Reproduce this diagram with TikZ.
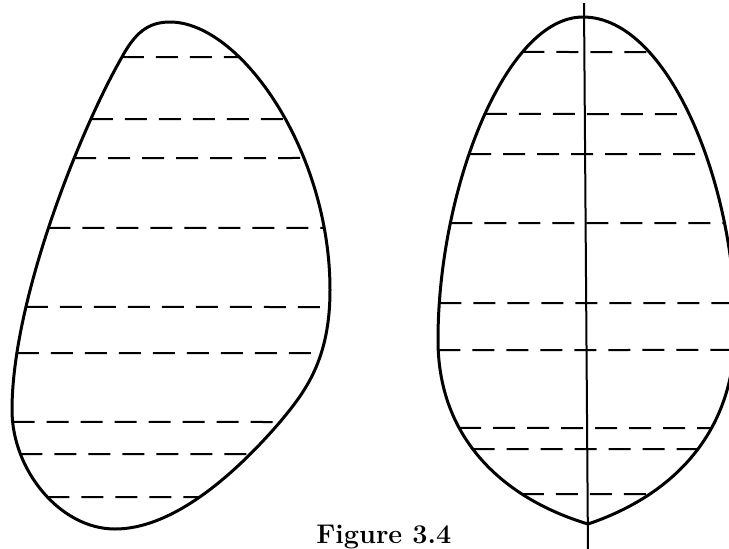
\documentclass[tikz,border=0pt]{standalone}
\usepackage{tikz}
\usetikzlibrary{intersections}
\tikzset{
  outline/.style={line width=1.5pt, line join=round},
  chord/.style={line width=1pt, dash pattern=on 11pt off 6pt},
  axisline/.style={line width=1pt}
}
\begin{document}
\begin{tikzpicture}[x=0.5pt, y=-0.5pt]
  \useasboundingbox (0,0) rectangle (729,548);
  \clip (0,0) rectangle (729,548);

  % left blob
  \draw[outline, name path=leftblob] (170,22)
    .. controls (240,22) and (330,150) .. (330,290)
    .. controls (330,360) and (305,392) .. (280,422)
    .. controls (230,480) and (170,529) .. (115,529)
    .. controls (60,529) and (12,470) .. (12,410)
    .. controls (12,300) and (80,130) .. (122,57)
    .. controls (135,33) and (148,22) .. (170,22) -- cycle;
  \foreach \y in {57,119,158,228,307,353,422,454,497} {
    \path[name path=cut] (0,\y) -- (400,\y);
    \draw[chord, name intersections={of=leftblob and cut, sort by=cut}]
      (intersection-1) -- (intersection-2);
  }

  % right blob with its axis
  \draw[outline, name path=rightblob] (583,17)
    .. controls (670,17) and (737,190) .. (735,330)
    .. controls (735,440) and (665,498) .. (588,524)
    .. controls (505,499) and (438,440) .. (438,340)
    .. controls (438,190) and (505,17) .. (583,17) -- cycle;
  \foreach \y in {52,114,154,223,303,350,428,449,494} {
    \path[name path=cut] (400,\y) -- (780,\y);
    \draw[chord, name intersections={of=rightblob and cut, sort by=cut}]
      (intersection-1) -- (intersection-2);
  }
  \coordinate (axtop) at (584,3);
  \coordinate (axbot) at (588,552);
  \draw[axisline] (axtop) -- (axbot);

  \node[font=\fontsize{13.5}{16}\selectfont\bfseries, anchor=base west, inner sep=0pt]
    (caption) at (316,543) {Figure 3.4};
\end{tikzpicture}
\end{document}
